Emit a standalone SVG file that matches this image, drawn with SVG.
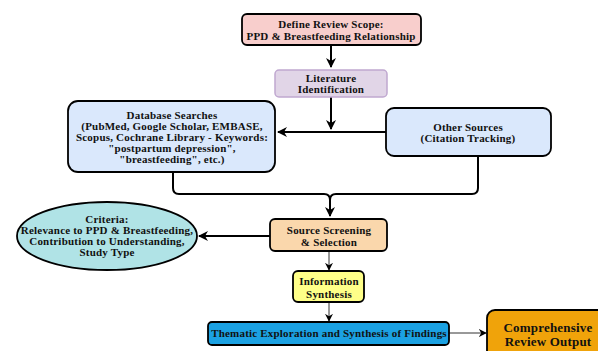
<svg xmlns="http://www.w3.org/2000/svg" width="598" height="351" viewBox="0 0 598 351">
<defs>
<marker id="ah" viewBox="0 0 10 10" refX="9" refY="5" markerWidth="5" markerHeight="5" orient="auto" markerUnits="strokeWidth"><path d="M0,0 L10,5 L0,10 L3,5 Z" fill="#000"/></marker>
<marker id="ahs" viewBox="0 0 10 10" refX="9" refY="5" markerWidth="8" markerHeight="8" orient="auto" markerUnits="strokeWidth"><path d="M0,0 L10,5 L0,10 L3,5 Z" fill="#000"/></marker>
</defs>
<style>
text{font-family:"Liberation Serif","Times New Roman",serif;font-weight:bold;font-size:11px;letter-spacing:0.2px;fill:#111;text-anchor:middle}
.n{stroke:#000;stroke-width:1.8}
.c{fill:none;stroke:#000}
.thick{stroke-width:2}
.thin{stroke-width:1;stroke:#333}
</style>
<rect width="598" height="351" fill="#fff"/>
<g id="connectors">
<path class="c thick" d="M331,45 V67" marker-end="url(#ah)"/>
<path class="c thick" d="M331,97 V129" marker-end="url(#ah)"/>
<path class="c thick" d="M386,132 H278" marker-end="url(#ah)"/>
<path class="c thick" d="M173,172 V188 Q173,194 179,194 H324 Q330,194 330,200 V216" marker-end="url(#ah)"/>
<path class="c thick" d="M478,156 V188 Q478,194 472,194 H336 Q330,194 330,200"/>
<path class="c thick" d="M270,236 H199" marker-end="url(#ah)"/>
<path class="c thin" d="M329,251 V270" marker-end="url(#ahs)"/>
<path class="c thin" d="M329,302 V321" marker-end="url(#ahs)"/>
<path class="c thin" d="M449,333 H486" marker-end="url(#ahs)"/>
</g>
<g id="define">
<rect class="n" x="242" y="14" width="179" height="31" rx="5" fill="#f8cecc"/>
<text x="331" y="28">Define Review Scope:</text>
<text x="331" y="40">PPD &amp; Breastfeeding Relationship</text>
</g>
<g id="literature">
<rect x="275" y="70" width="112" height="27" rx="4" fill="#e1d5e7" stroke="#c0a8d0" stroke-width="1.5"/>
<text x="331" y="82">Literature</text>
<text x="331" y="93">Identification</text>
</g>
<g id="database">
<rect class="n" x="68" y="101" width="207" height="71" rx="10" fill="#dae8fc"/>
<text x="172" y="119">Database Searches</text>
<text x="172" y="130">(PubMed, Google Scholar, EMBASE,</text>
<text x="172" y="141">Scopus, Cochrane Library - Keywords:</text>
<text x="172" y="152">"postpartum depression",</text>
<text x="172" y="163">"breastfeeding", etc.)</text>
</g>
<g id="other">
<rect class="n" x="386" y="108" width="165" height="48" rx="8" fill="#dae8fc"/>
<text x="468" y="131">Other Sources</text>
<text x="468" y="142">(Citation Tracking)</text>
</g>
<g id="criteria">
<ellipse class="n" cx="107" cy="236" rx="90" ry="34" fill="#b0e3e6"/>
<text x="107" y="223">Criteria:</text>
<text x="107" y="234">Relevance to PPD &amp; Breastfeeding,</text>
<text x="107" y="245">Contribution to Understanding,</text>
<text x="107" y="256">Study Type</text>
</g>
<g id="screening">
<rect class="n" x="270" y="219" width="117" height="32" rx="5" fill="#fad7ac"/>
<text x="329" y="234">Source Screening</text>
<text x="329" y="246">&amp; Selection</text>
</g>
<g id="synthesis">
<rect class="n" x="293" y="271" width="71" height="31" rx="5" fill="#ffff88"/>
<text x="329" y="285">Information</text>
<text x="329" y="298">Synthesis</text>
</g>
<g id="thematic">
<rect class="n" x="208" y="322" width="241" height="23" rx="4" fill="#1ba1e2"/>
<text x="329" y="337">Thematic Exploration and Synthesis of Findings</text>
</g>
<g id="output">
<rect class="n" x="487" y="310" width="124" height="60" rx="8" fill="#f0a30a"/>
<text x="548" y="332" style="font-size:13px">Comprehensive</text>
<text x="548" y="346" style="font-size:13px">Review Output</text>
</g>
</svg>
